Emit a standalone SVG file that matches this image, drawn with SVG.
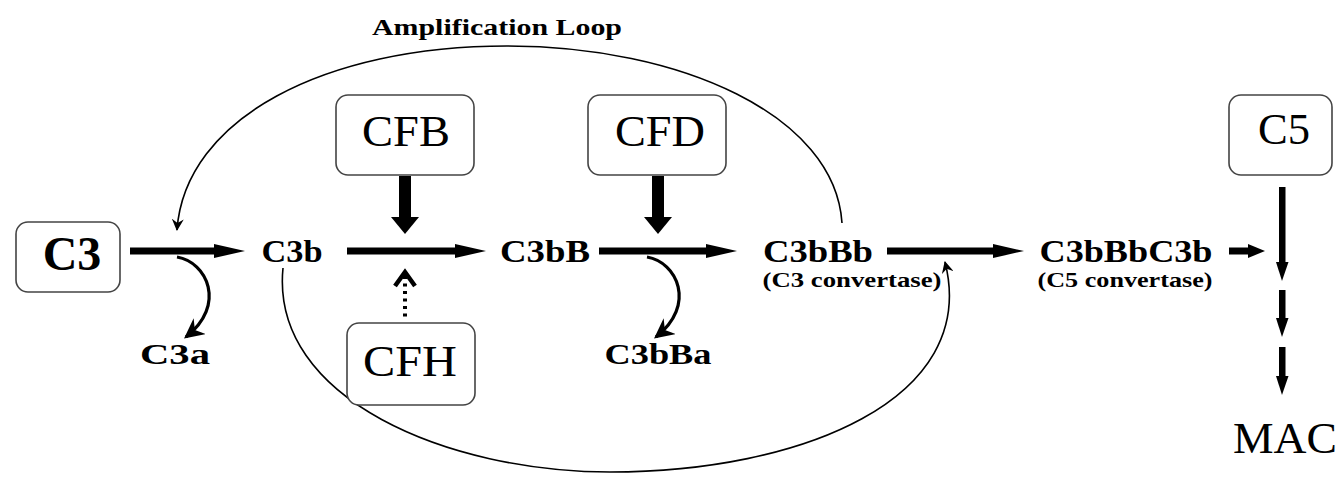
<svg xmlns="http://www.w3.org/2000/svg" width="1340" height="477" viewBox="0 0 1340 477">
<style>
.box{fill:#fff;stroke:#444;stroke-width:1.6}
text{font-family:'Liberation Serif','Times New Roman','DejaVu Serif',serif;fill:#000}
.b{font-weight:bold}
.thin{fill:none;stroke:#000;stroke-width:1.6}
.curl{fill:none;stroke:#000;stroke-width:3.2}
.shaft{stroke:#000;stroke-width:7}
</style>
<defs>
<marker id="thinhead" viewBox="0 0 12 12" refX="11" refY="6" markerWidth="12" markerHeight="12" markerUnits="userSpaceOnUse" orient="auto">
<path d="M0,0 L12,6 L0,12 L4,6 Z" fill="#000"/>
</marker>
<marker id="curlhead" viewBox="0 0 16 16" refX="14" refY="8" markerWidth="20" markerHeight="20" markerUnits="userSpaceOnUse" orient="auto">
<path d="M0,0 L16,8 L0,16 L5,8 Z" fill="#000"/>
</marker>
</defs>
<text class="b" x="497" y="35" font-size="24" text-anchor="middle" textLength="250" lengthAdjust="spacingAndGlyphs">Amplification Loop</text>
<g id="connectors">
<path class="thin" d="M 842 223 C 835 115 680 46 507 46 C 325 46 185 118 177 230" marker-end="url(#thinhead)"/>
<path class="thin" d="M 283 268 C 270 400 450 472 610 472 C 800 472 980 400 945 262" marker-end="url(#thinhead)"/>
<line class="shaft" x1="130" y1="251" x2="218" y2="251"/>
<polygon points="214,244 245,251 214,258"/>
<line class="shaft" x1="347" y1="251" x2="458" y2="251"/>
<polygon points="455,244 486,251 455,258"/>
<line class="shaft" x1="599" y1="251" x2="709" y2="251"/>
<polygon points="706,244 737,251 706,258"/>
<line class="shaft" x1="887" y1="251" x2="996" y2="251"/>
<polygon points="993,244 1024,251 993,258"/>
<line class="shaft" x1="1229" y1="251" x2="1250" y2="251"/>
<polygon points="1248,244 1265,251 1248,258"/>
<path class="curl" d="M 177 257 C 207 262 227 305 186 337" marker-end="url(#curlhead)"/>
<path class="curl" d="M 647 257 C 677 262 697 305 656 337" marker-end="url(#curlhead)"/>
<rect x="399" y="176" width="12" height="43"/>
<polygon points="391,217 419,217 405,234"/>
<rect x="652" y="176" width="12" height="43"/>
<polygon points="644,217 672,217 658,234"/>
<polyline points="395,286 405,272 415,286" fill="none" stroke="#000" stroke-width="4.5"/>
<line x1="405" y1="276" x2="405" y2="318" stroke="#000" stroke-width="4" stroke-dasharray="3 4.5"/>
<rect x="1279" y="187" width="6.5" height="78"/>
<polygon points="1276,262 1288.5,262 1282,281"/>
<rect x="1279" y="290" width="6.5" height="30"/>
<polygon points="1276,318 1288.5,318 1282,337"/>
<rect x="1279" y="347" width="6.5" height="31"/>
<polygon points="1276,376 1288.5,376 1282,395"/>
</g>
<g id="C3"><rect class="box" x="16" y="222" width="104" height="70" rx="12"/><text class="b" x="72" y="270" font-size="48" text-anchor="middle">C3</text></g>
<g id="CFB"><rect class="box" x="336" y="95" width="138" height="80" rx="12"/><text x="406" y="146" font-size="45" text-anchor="middle" textLength="88" lengthAdjust="spacingAndGlyphs">CFB</text></g>
<g id="CFD"><rect class="box" x="588" y="95" width="138" height="80" rx="12"/><text x="660" y="146" font-size="45" text-anchor="middle" textLength="90" lengthAdjust="spacingAndGlyphs">CFD</text></g>
<g id="CFH"><rect class="box" x="347" y="323" width="128" height="82" rx="12"/><text x="410" y="376" font-size="45" text-anchor="middle" textLength="94" lengthAdjust="spacingAndGlyphs">CFH</text></g>
<g id="C5"><rect class="box" x="1229" y="95" width="103" height="80" rx="12"/><text x="1284" y="144" font-size="45" text-anchor="middle" textLength="52" lengthAdjust="spacingAndGlyphs">C5</text></g>
<g id="C3b"><text class="b" x="292" y="262" font-size="32" text-anchor="middle" textLength="61" lengthAdjust="spacingAndGlyphs">C3b</text></g>
<g id="C3bB"><text class="b" x="545" y="262" font-size="32" text-anchor="middle" textLength="90" lengthAdjust="spacingAndGlyphs">C3bB</text></g>
<g id="C3bBb"><text class="b" x="818" y="262" font-size="32" text-anchor="middle" textLength="110" lengthAdjust="spacingAndGlyphs">C3bBb</text><text class="b" x="852" y="287" font-size="22" text-anchor="middle" textLength="179" lengthAdjust="spacingAndGlyphs">(C3 convertase)</text></g>
<g id="C3bBbC3b"><text class="b" x="1126" y="262" font-size="32" text-anchor="middle" textLength="173" lengthAdjust="spacingAndGlyphs">C3bBbC3b</text><text class="b" x="1125" y="287" font-size="22" text-anchor="middle" textLength="175" lengthAdjust="spacingAndGlyphs">(C5 convertase)</text></g>
<g id="C3a"><text class="b" x="175" y="364" font-size="30" text-anchor="middle" textLength="70" lengthAdjust="spacingAndGlyphs">C3a</text></g>
<g id="C3bBa"><text class="b" x="658" y="364" font-size="30" text-anchor="middle" textLength="107" lengthAdjust="spacingAndGlyphs">C3bBa</text></g>
<g id="MAC"><text x="1285" y="453" font-size="44" text-anchor="middle" textLength="104" lengthAdjust="spacingAndGlyphs">MAC</text></g>
</svg>
